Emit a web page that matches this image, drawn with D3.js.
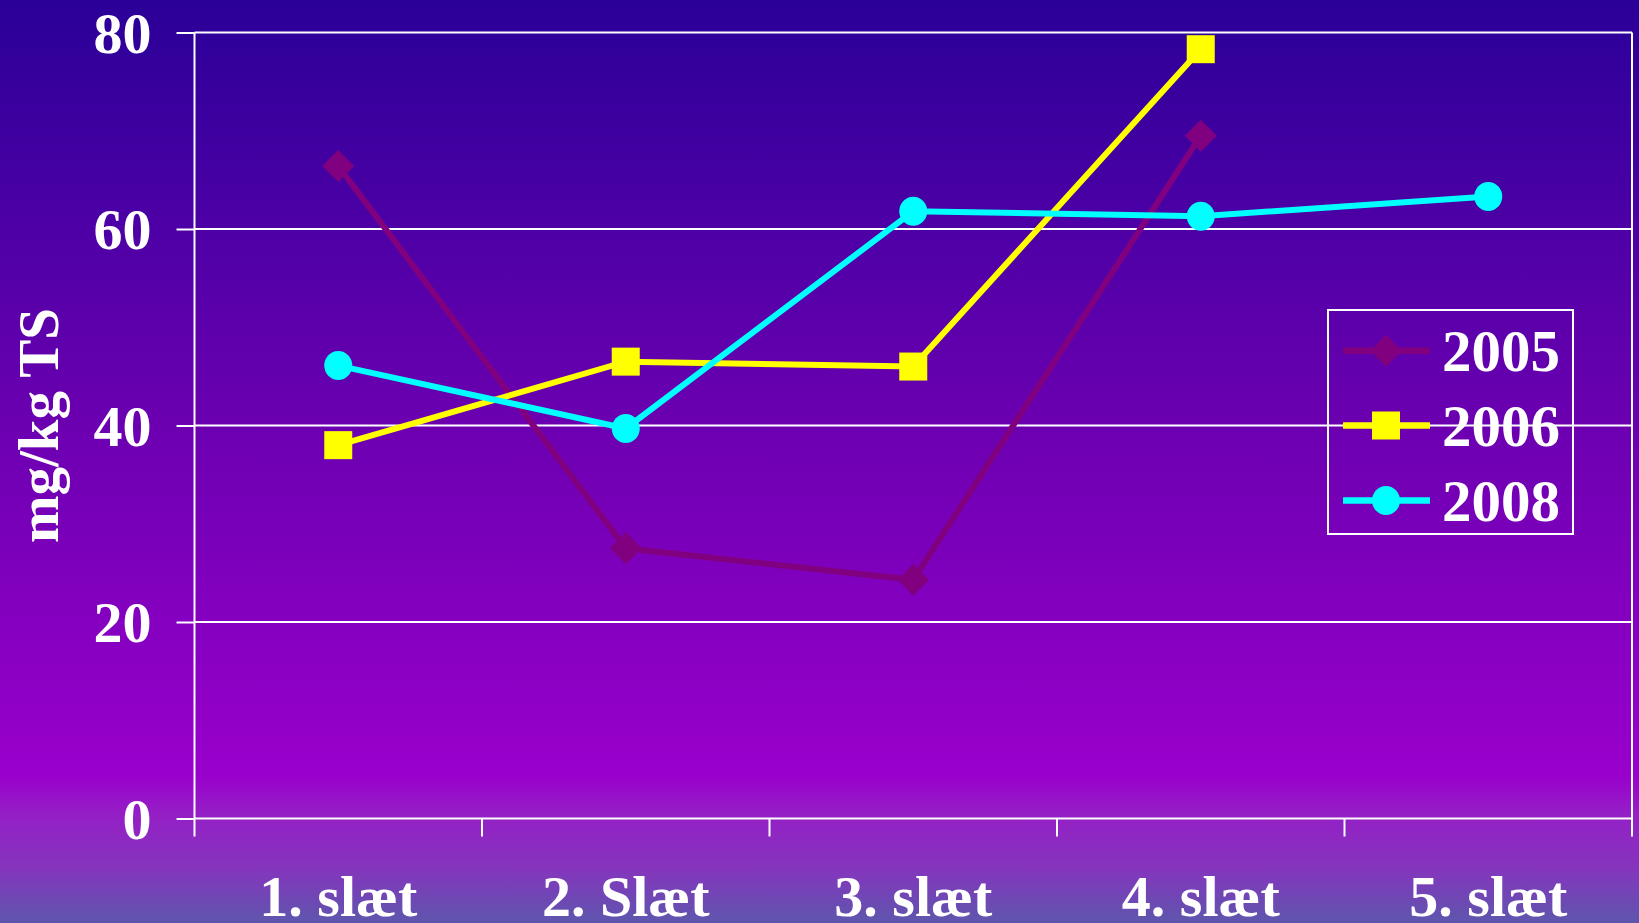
<!DOCTYPE html>
<html>
<head>
<meta charset="utf-8">
<script src="https://cdn.jsdelivr.net/npm/d3@7"></script>
<style>
  html, body { margin: 0; padding: 0; overflow: hidden; }
  svg { display: block; }
  text { font-family: "Liberation Serif", "Times New Roman", serif; font-weight: bold; fill: #ffffff; }
</style>
</head>
<body>
<svg id="chart" width="1639" height="923"></svg>
<script>
// Harvest cuts and measured contents (mg/kg TS) per year
const categories = ["1. slæt", "2. Slæt", "3. slæt", "4. slæt", "5. slæt"];
const seriesNames = ["2005", "2006", "2008"];
const values2005 = [66.4, 27.5, 24.3, 69.5, null];
const values2006 = [38.0, 46.5, 46.0, 78.3, null];
const values2008 = [46.1, 39.7, 61.8, 61.3, 63.3];
const yTicks = [0, 20, 40, 60, 80];
const yTitle = "mg/kg TS";

const series = [
  { name: seriesNames[0], values: values2005, color: "#800080", symbol: "diamond" },
  { name: seriesNames[1], values: values2006, color: "#ffff00", symbol: "square" },
  { name: seriesNames[2], values: values2008, color: "#00ffff", symbol: "circle" }
];

const W = 1639, H = 923;
const plot = { left: 194.5, right: 1632, top: 32.5, bottom: 818.5 };
const svg = d3.select("#chart");

// Background gradient: deep blue at the top fading to violet, softening at the foot
const defs = svg.append("defs");
const grad = defs.append("linearGradient")
  .attr("id", "bg").attr("x1", 0).attr("y1", 0).attr("x2", 0).attr("y2", 1);
[[0, "#2a0098"], [0.45, "#6a00b0"], [0.84, "#9900cc"], [0.88, "#951ec6"], [0.94, "#8535bd"], [1, "#5e56ad"]]
  .forEach(([o, c]) => grad.append("stop").attr("offset", o).attr("stop-color", c));
svg.append("rect").attr("width", W).attr("height", H).attr("fill", "url(#bg)");

const x = d3.scaleBand().domain(categories).range([plot.left, plot.right]).padding(0);
const y = d3.scaleLinear().domain([0, 80]).range([plot.bottom, plot.top]);

// Horizontal gridlines
svg.append("g").selectAll("line").data(yTicks).join("line")
  .attr("x1", plot.left).attr("x2", plot.right)
  .attr("y1", d => y(d)).attr("y2", d => y(d))
  .attr("stroke", "#ffffff").attr("stroke-width", 2);

// Y axis with outward ticks
const yAxis = svg.append("g").attr("transform", `translate(${plot.left},0)`)
  .call(d3.axisLeft(y).tickValues(yTicks).tickSize(18).tickPadding(25).tickFormat(d3.format("d")));
yAxis.select(".domain").remove();
yAxis.selectAll(".tick line").attr("stroke", "#ffffff").attr("stroke-width", 2);
yAxis.selectAll(".tick text").attr("font-size", 58).attr("fill", "#ffffff")
  .attr("font-family", "Liberation Serif").attr("font-weight", "bold").attr("dy", "0.34em");

// Vertical frame lines, extended below the baseline as tick marks
const tickLen = 18;
const boundaries = categories.map(c => x(c)).concat([x(categories[categories.length - 1]) + x.bandwidth()]);
svg.append("g").selectAll("line").data(boundaries).join("line")
  .attr("x1", d => d).attr("x2", d => d)
  .attr("y1", (d, i) => (i === 0 || i === boundaries.length - 1) ? plot.top : plot.bottom)
  .attr("y2", plot.bottom + tickLen)
  .attr("stroke", "#ffffff").attr("stroke-width", 2);

// Category labels
const xAxis = svg.append("g").attr("transform", `translate(0,${plot.bottom})`)
  .call(d3.axisBottom(x).tickSize(0).tickPadding(0));
xAxis.select(".domain").remove();
xAxis.selectAll(".tick text").attr("font-size", 58).attr("fill", "#ffffff")
  .attr("font-family", "Liberation Serif").attr("font-weight", "bold")
  .attr("dy", 0).attr("y", 97);

// Y axis title
svg.append("text")
  .attr("transform", `translate(58,${(plot.top + plot.bottom) / 2}) rotate(-90)`)
  .attr("text-anchor", "middle").attr("font-size", 57)
  .text(yTitle);

// Marker drawing helper
function drawMarker(g, symbol, color) {
  if (symbol === "diamond") {
    g.append("path").attr("d", "M0,-16 L16,0 L0,16 L-16,0 Z").attr("fill", color);
  } else if (symbol === "square") {
    g.append("rect").attr("x", -14).attr("y", -14).attr("width", 28).attr("height", 28).attr("fill", color);
  } else {
    g.append("ellipse").attr("rx", 14).attr("ry", 14.5).attr("fill", color);
  }
}

const cx = c => x(c) + x.bandwidth() / 2;
const line = d3.line()
  .defined(d => d.v != null)
  .x(d => cx(d.c))
  .y(d => y(d.v));

series.forEach(s => {
  const pts = categories.map((c, i) => ({ c, v: s.values[i] }));
  svg.append("path").datum(pts)
    .attr("d", line).attr("fill", "none")
    .attr("stroke", s.color).attr("stroke-width", 6).attr("stroke-linejoin", "miter");
  pts.filter(p => p.v != null).forEach(p => {
    const g = svg.append("g").attr("transform", `translate(${cx(p.c)},${y(p.v)})`);
    drawMarker(g, s.symbol, s.color);
  });
});

// Legend
const legend = { x: 1328, y: 310, w: 245, h: 224 };
svg.append("rect").attr("x", legend.x).attr("y", legend.y)
  .attr("width", legend.w).attr("height", legend.h)
  .attr("fill", "none").attr("stroke", "#ffffff").attr("stroke-width", 2);
const rowY = [350.7, 425.5, 500.5];
series.forEach((s, i) => {
  const g = svg.append("g").attr("transform", `translate(0,${rowY[i]})`);
  g.append("line").attr("x1", 1343).attr("x2", 1430).attr("y1", 0).attr("y2", 0)
    .attr("stroke", s.color).attr("stroke-width", 6.5);
  const m = g.append("g").attr("transform", "translate(1386,0)");
  drawMarker(m, s.symbol, s.color);
  g.append("text").attr("x", 1442).attr("y", 20).attr("font-size", 59).text(s.name);
});
</script>
</body>
</html>
